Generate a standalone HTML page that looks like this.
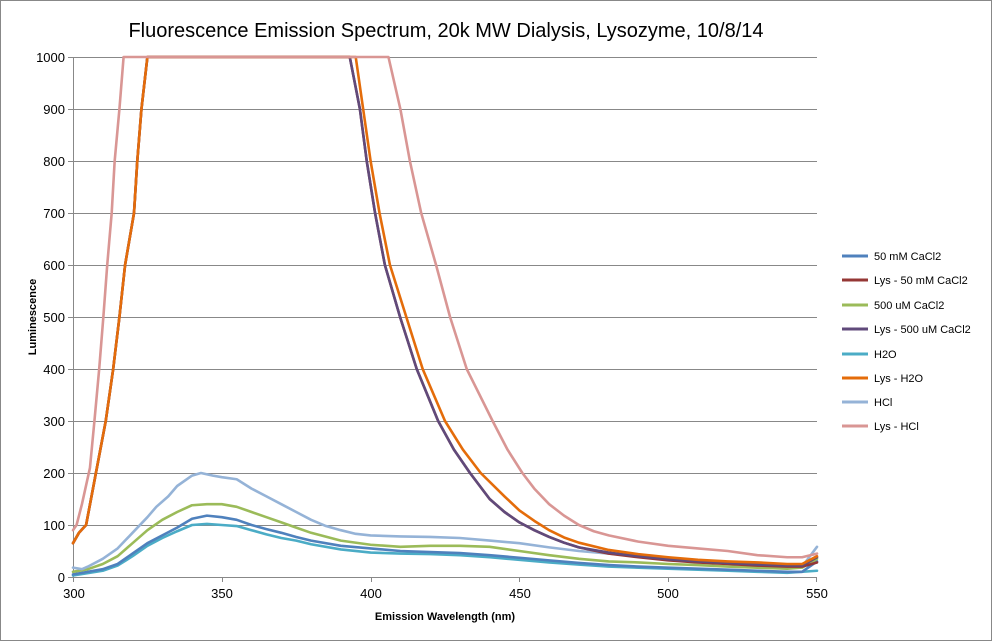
<!DOCTYPE html>
<html><head><meta charset="utf-8"><style>
body{margin:0;background:#fff}
svg{display:block;font-family:"Liberation Sans",sans-serif}
</style></head><body>
<svg width="992" height="641" viewBox="0 0 992 641" xmlns="http://www.w3.org/2000/svg">
<rect x="0.5" y="0.5" width="991" height="640" fill="#fff" stroke="#888"/>
<text x="446" y="37" font-size="20" text-anchor="middle" fill="#000">Fluorescence Emission Spectrum, 20k MW Dialysis, Lysozyme, 10/8/14</text>
<g stroke="#888" stroke-width="1">
<line x1="73" y1="57.5" x2="817" y2="57.5"/><line x1="73" y1="109.5" x2="817" y2="109.5"/>
<line x1="73" y1="161.5" x2="817" y2="161.5"/><line x1="73" y1="213.5" x2="817" y2="213.5"/>
<line x1="73" y1="265.5" x2="817" y2="265.5"/><line x1="73" y1="317.5" x2="817" y2="317.5"/>
<line x1="73" y1="369.5" x2="817" y2="369.5"/><line x1="73" y1="421.5" x2="817" y2="421.5"/>
<line x1="73" y1="473.5" x2="817" y2="473.5"/><line x1="73" y1="525.5" x2="817" y2="525.5"/>
<line x1="73" y1="577.5" x2="817" y2="577.5"/>
<line x1="73.5" y1="57" x2="73.5" y2="582"/>
<line x1="68" y1="57.5" x2="73" y2="57.5"/><line x1="68" y1="109.5" x2="73" y2="109.5"/><line x1="68" y1="161.5" x2="73" y2="161.5"/><line x1="68" y1="213.5" x2="73" y2="213.5"/><line x1="68" y1="265.5" x2="73" y2="265.5"/><line x1="68" y1="317.5" x2="73" y2="317.5"/><line x1="68" y1="369.5" x2="73" y2="369.5"/><line x1="68" y1="421.5" x2="73" y2="421.5"/><line x1="68" y1="473.5" x2="73" y2="473.5"/><line x1="68" y1="525.5" x2="73" y2="525.5"/><line x1="68" y1="577.5" x2="73" y2="577.5"/>
<line x1="222.5" y1="577" x2="222.5" y2="582"/><line x1="371.5" y1="577" x2="371.5" y2="582"/><line x1="519.5" y1="577" x2="519.5" y2="582"/><line x1="668.5" y1="577" x2="668.5" y2="582"/><line x1="816.5" y1="577" x2="816.5" y2="582"/>
</g>
<g font-size="13" text-anchor="end" fill="#000">
<text x="65" y="62">1000</text><text x="65" y="114">900</text><text x="65" y="166">800</text><text x="65" y="218">700</text><text x="65" y="270">600</text><text x="65" y="322">500</text><text x="65" y="374">400</text><text x="65" y="426">300</text><text x="65" y="478">200</text><text x="65" y="530">100</text><text x="65" y="582">0</text>
</g>
<g font-size="13" text-anchor="middle" fill="#000">
<text x="74" y="598">300</text><text x="222" y="598">350</text><text x="371" y="598">400</text><text x="520" y="598">450</text><text x="668" y="598">500</text><text x="817" y="598">550</text>
</g>
<text x="445" y="620" font-size="11" font-weight="bold" text-anchor="middle">Emission Wavelength (nm)</text>
<text transform="translate(36,317) rotate(-90)" font-size="11" font-weight="bold" text-anchor="middle">Luminescence</text>
<g transform="translate(73,577) scale(2.976,-0.52)" fill="none" stroke-width="2.6" stroke-linejoin="round" stroke-linecap="round">
<polyline vector-effect="non-scaling-stroke" stroke="#4BACC6" points="0,3 10,12 15,22 20,40 25,60 30,75 35,88 40,100 45,102 50,100 55,98 60,90 65,82 70,75 75,70 80,63 90,53 100,47 110,45 120,44 130,42 140,38 150,33 160,28 170,24 180,20 190,18 200,16 210,14 220,12 230,10 240,8 250,12"/>
<polyline vector-effect="non-scaling-stroke" stroke="#4F81BD" points="0,5 10,15 15,25 20,45 25,65 30,80 35,95 40,112 45,118 50,115 55,110 60,100 65,92 70,85 75,77 80,70 90,60 100,55 110,50 120,48 130,46 140,42 150,37 160,32 170,27 180,23 190,20 200,18 210,16 220,14 230,12 240,10 245,10 250,30"/>
<polyline vector-effect="non-scaling-stroke" stroke="#9BBB59" points="0,10 5,15 10,25 15,40 20,65 25,90 30,110 35,125 40,138 45,140 50,140 55,135 60,125 65,115 70,105 75,95 80,85 90,70 100,62 110,58 120,60 130,60 140,58 150,50 160,42 170,35 180,30 190,28 200,25 210,23 220,20 230,18 240,16 245,18 250,35"/>
<polyline vector-effect="non-scaling-stroke" stroke="#95B3D7" points="0,18 3,15 5,20 10,35 15,55 20,85 25,115 28,135 32,155 35,175 40,195 43,200 47,195 50,192 55,188 60,170 65,155 70,140 75,125 80,110 85,98 90,90 95,83 100,80 110,78 120,77 130,75 140,70 150,65 160,57 170,50 180,45 190,40 200,36 210,32 220,28 230,25 240,22 245,20 250,58"/>
<polyline vector-effect="non-scaling-stroke" stroke="#953735" points="0,65 2,85 4.4,100 7.7,200 11,300 13.5,400 15.6,500 17.5,600 20.5,700 21.6,800 23,900 25,1000 93,1000 96.4,900 98.7,800 101.5,700 104.8,600 109.9,500 115.5,400 122.7,300 128,245 133.4,200 140,150 145,125 150,105 155,90 160,77 165,66 170,57 180,45 190,38 200,32 210,28 220,25 230,22 240,20 245,20 250,28"/>
<polyline vector-effect="non-scaling-stroke" stroke="#604A7B" points="0,65 2,85 4.4,100 7.7,200 11,300 13.5,400 15.6,500 17.5,600 20.5,700 21.6,800 23,900 25,1000 93,1000 96.4,900 98.7,800 101.5,700 104.8,600 109.9,500 115.5,400 122.7,300 128,245 133.4,200 140,150 145,125 150,105 155,90 160,77 165,66 170,57 180,47 190,40 200,34 210,30 220,27 230,24 240,22 245,22 250,38"/>
<polyline vector-effect="non-scaling-stroke" stroke="#E46C0A" points="0,65 2,85 4.4,100 7.7,200 11,300 13.5,400 15.6,500 17.5,600 20.5,700 21.6,800 23,900 25,1000 95,1000 97.5,900 100,800 103,700 106.5,600 112,500 117.5,400 125,300 131,245 137,200 145,155 150,128 155,108 160,90 165,76 170,66 180,52 190,44 200,38 210,33 220,30 230,28 240,25 245,25 250,40"/>
<polyline vector-effect="non-scaling-stroke" stroke="#D99694" points="0,90 1.2,100 3,140 5.7,210 7.2,300 8.8,400 10.2,500 11.5,600 13,700 14,800 15.6,900 17,1000 106,1000 110,900 113.2,800 117,700 122,600 126.7,500 132.3,400 141,300 146,245 151,200 155,170 160,140 165,118 170,100 175,88 180,80 190,68 200,60 210,55 220,50 230,42 240,38 245,38 250,45"/>
</g>
<g stroke-width="3">
<line x1="842" y1="256" x2="868" y2="256" stroke="#4F81BD"/>
<line x1="842" y1="280" x2="868" y2="280" stroke="#953735"/>
<line x1="842" y1="305" x2="868" y2="305" stroke="#9BBB59"/>
<line x1="842" y1="329" x2="868" y2="329" stroke="#604A7B"/>
<line x1="842" y1="354" x2="868" y2="354" stroke="#4BACC6"/>
<line x1="842" y1="378" x2="868" y2="378" stroke="#E46C0A"/>
<line x1="842" y1="402" x2="868" y2="402" stroke="#95B3D7"/>
<line x1="842" y1="426" x2="868" y2="426" stroke="#D99694"/>
</g>
<g font-size="11" fill="#000">
<text x="874" y="260">50 mM CaCl2</text>
<text x="874" y="284">Lys - 50 mM CaCl2</text>
<text x="874" y="309">500 uM CaCl2</text>
<text x="874" y="333">Lys - 500 uM CaCl2</text>
<text x="874" y="358">H2O</text>
<text x="874" y="382">Lys - H2O</text>
<text x="874" y="406">HCl</text>
<text x="874" y="430">Lys - HCl</text>
</g>
</svg>
</body></html>
